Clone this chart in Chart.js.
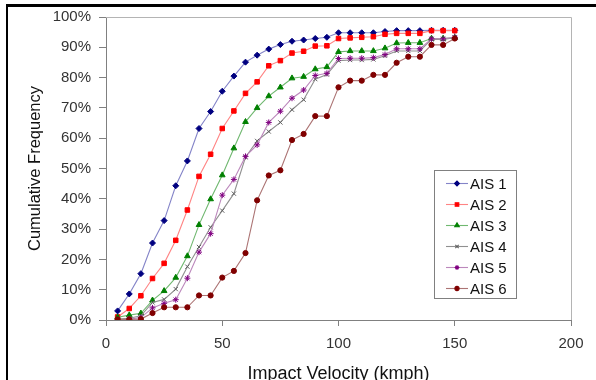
<!DOCTYPE html>
<html>
<head>
<meta charset="utf-8">
<script src="https://cdn.jsdelivr.net/npm/chart.js@4.4.1/dist/chart.umd.min.js"></script>
<style>
  html, body { margin: 0; padding: 0; background: #fff; }
  #wrap { position: relative; width: 596px; height: 380px; }
  canvas { display: block; }
</style>
</head>
<body>
<div id="wrap"><canvas id="c" width="596" height="380"></canvas></div>
<script>
// ---- data ----
const speeds = [5,10,15,20,25,30,35,40,45,50,55,60,65,70,75,80,85,90,95,100,105,110,115,120,125,130,135,140,145,150];
const seriesNames = ['AIS 1','AIS 2','AIS 3','AIS 4','AIS 5','AIS 6'];
const ais1 = [3.0,8.6,15.3,25.4,32.8,44.3,52.5,63.2,68.8,75.5,80.5,85.1,87.4,89.4,90.9,92.0,92.4,92.9,93.3,94.8,94.8,94.8,94.8,95.2,95.5,95.5,95.5,95.6,95.6,95.6];
const ais2 = [1.0,3.8,8.0,13.7,18.7,26.3,36.3,47.4,54.7,63.2,69.0,74.8,78.6,83.9,85.6,88.1,88.7,90.4,90.5,92.9,93.1,93.3,93.5,94.3,94.6,94.6,94.6,95.5,95.5,95.5];
const ais3 = [0.9,1.6,2.2,6.5,9.6,14.0,21.1,31.4,39.9,47.8,56.7,65.4,70.0,73.9,76.8,79.8,80.3,82.8,83.5,88.5,88.8,88.8,88.8,89.7,91.4,91.5,91.5,92.9,92.9,93.2];
const ais4 = [0.3,0.6,1.4,5.8,6.8,10.2,17.6,24.1,30.6,36.1,41.7,53.7,59.1,62.2,65.2,69.4,72.7,79.5,81.0,85.6,85.8,85.8,86.0,87.2,88.8,88.8,88.8,92.6,92.6,93.2];
const ais5 = [0.0,0.3,0.8,4.0,5.5,6.7,13.8,22.4,28.5,41.2,46.4,54.0,57.8,65.2,68.9,73.2,75.9,80.7,81.4,86.3,86.4,86.4,86.6,87.6,89.5,89.5,89.5,92.8,92.8,93.3];
const ais6 = [0.2,0.2,0.3,2.3,4.2,4.2,4.2,8.1,8.1,14.0,16.2,22.1,39.5,47.7,49.4,59.4,61.4,67.3,67.3,76.8,79.0,79.0,80.9,80.9,84.9,86.9,86.9,90.8,90.8,92.9];
const xTicks = [0,50,100,150,200];
const yTicks = [0,10,20,30,40,50,60,70,80,90,100];

// ---- styles ----
const markerColors = ['#000080','#ff0000','#008000','#606060','#800080','#800000'];
const lineColors   = ['#8484c8','#ff8484','#70b870','#909090','#bc88bc','#ac7474'];
const markerStyles = ['rectRot','rect','triangle','crossRot','star','circle'];
const markerRadius = [3.0,3.2,3.3,3.0,3.0,2.6];
const allSeries = [ais1, ais2, ais3, ais4, ais5, ais6];

const datasets = allSeries.map((vals, i) => ({
  label: seriesNames[i],
  data: speeds.map((s, k) => ({x: s, y: vals[k]})),
  borderColor: lineColors[i],
  borderWidth: 1.1,
  backgroundColor: markerColors[i],
  pointStyle: markerStyles[i],
  pointRadius: markerRadius[i],
  pointBackgroundColor: markerColors[i],
  pointBorderColor: markerColors[i],
  pointBorderWidth: 1,
  tension: 0,
  fill: false
})).reverse();

const FONT = 'Arial, "Liberation Sans", sans-serif';

const framePlugin = {
  id: 'frame',
  beforeDraw(chart) {
    const ctx = chart.ctx;
    ctx.save();
    ctx.fillStyle = '#000';
    ctx.fillRect(6, 4, 590, 3);
    ctx.fillRect(6, 4, 2, 376);
    ctx.restore();
  },
  afterDatasetsDraw(chart) {
    const a = chart.chartArea, ctx = chart.ctx;
    ctx.save();
    ctx.strokeStyle = '#b4b4b4';
    ctx.lineWidth = 1;
    ctx.beginPath();
    ctx.moveTo(a.left, a.top + 0.5);
    ctx.lineTo(a.right + 0.5, a.top + 0.5);
    ctx.lineTo(a.right + 0.5, a.bottom);
    ctx.stroke();
    ctx.restore();
  },
  afterDraw(chart) {
    // legend box
    const ctx = chart.ctx;
    const bx = 434.5, by = 170.5, bw = 82, bh = 128;
    ctx.save();
    ctx.fillStyle = '#fff';
    ctx.fillRect(bx, by, bw, bh);
    ctx.strokeStyle = '#808080';
    ctx.lineWidth = 1;
    ctx.strokeRect(bx, by, bw, bh);
    ctx.font = '15px ' + FONT;
    ctx.textBaseline = 'middle';
    ctx.textAlign = 'left';
    for (let i = 0; i < seriesNames.length; i++) {
      const y = 183.5 + i * 21;
      ctx.strokeStyle = lineColors[i];
      ctx.lineWidth = 1.1;
      ctx.beginPath();
      ctx.moveTo(446, y);
      ctx.lineTo(468, y);
      ctx.stroke();
      const opts = {pointStyle: markerStyles[i], radius: markerRadius[i] * 0.8, borderWidth: 1, rotation: 0};
      ctx.fillStyle = markerColors[i];
      ctx.strokeStyle = markerColors[i];
      if (Chart.helpers && Chart.helpers.drawPoint) {
        Chart.helpers.drawPoint(ctx, opts, 457, y);
      } else {
        ctx.beginPath(); ctx.arc(457, y, 2.2, 0, Math.PI * 2); ctx.fill();
      }
      ctx.fillStyle = '#111';
      ctx.fillText(seriesNames[i], 470, y + 1);
    }
    ctx.restore();
  }
};

new Chart(document.getElementById('c'), {
  type: 'line',
  data: { datasets },
  options: {
    responsive: false,
    animation: false,
    devicePixelRatio: 1,
    layout: { padding: { left: 8, top: 14, right: 25, bottom: 0 } },
    plugins: { legend: { display: false }, tooltip: { enabled: false } },
    scales: {
      x: {
        type: 'linear',
        min: 0, max: 200,
        afterBuildTicks: s => { s.ticks = xTicks.map(v => ({value: v})); },
        afterFit: s => { s.height = 60; },
        grid: { drawOnChartArea: false, drawTicks: true, tickLength: 6, color: '#808080' },
        border: { display: true, color: '#808080', width: 1 },
        ticks: { color: '#333', font: { family: FONT, size: 15 }, padding: 9, maxRotation: 0 },
        title: { display: true, text: 'Impact Velocity (kmph)', color: '#111',
                 font: { family: FONT, size: 18, lineHeight: 0.7 }, padding: { top: 0, bottom: 0 } }
      },
      y: {
        type: 'linear',
        min: 0, max: 100,
        afterBuildTicks: s => { s.ticks = yTicks.map(v => ({value: v})); },
        afterFit: s => { s.width = 98; },
        grid: { drawOnChartArea: false, drawTicks: true, tickLength: 7, color: '#808080' },
        border: { display: true, color: '#808080', width: 1 },
        ticks: { color: '#333', font: { family: FONT, size: 15 }, padding: 8,
                 callback: v => v + '%' },
        title: { display: true, text: 'Cumulative Frequency', color: '#111',
                 font: { family: FONT, size: 16.5, lineHeight: 1 }, padding: { top: 19, bottom: 0 } }
      }
    }
  },
  plugins: [framePlugin]
});
</script>
</body>
</html>
